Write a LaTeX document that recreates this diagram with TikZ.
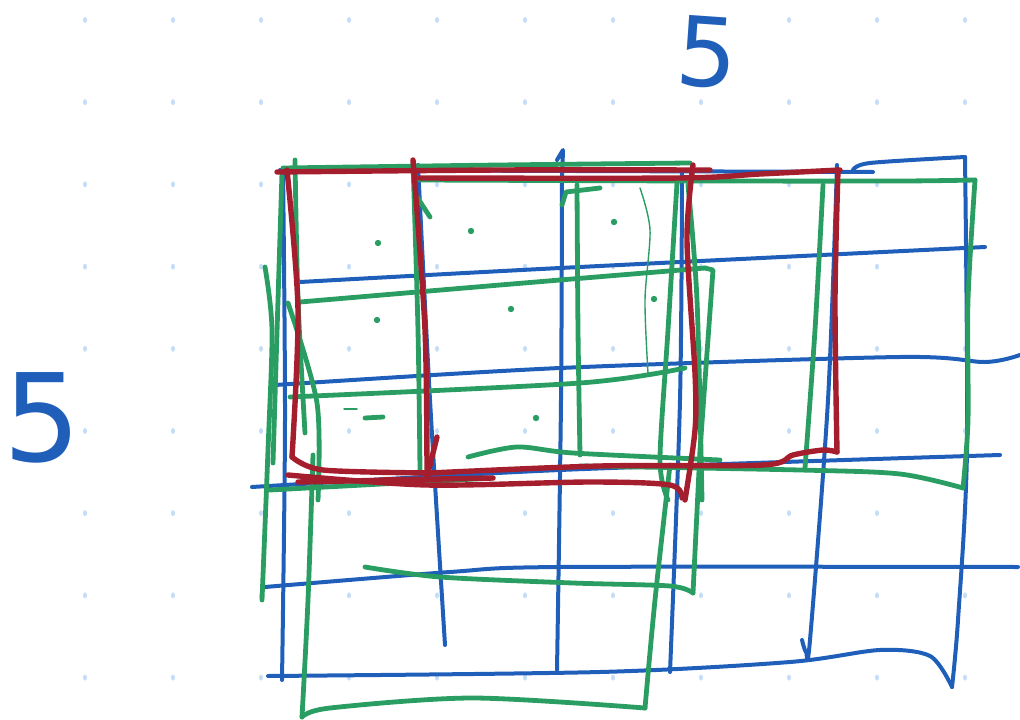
\documentclass[tikz,border=0pt]{standalone}
\usepackage{fontspec}
\usepackage{xcolor}
\newfontfamily\handfont{DejaVu Sans}
\definecolor{skblue}{HTML}{1F5FBA}
\definecolor{skgreen}{HTML}{2A9E62}
\definecolor{skred}{HTML}{A51E2E}
\definecolor{skdot}{HTML}{C4DDF8}

\begin{document}
\begin{tikzpicture}[x=1pt, y=-1pt,
    bluepen/.style={draw=skblue, line width=4pt, line cap=round, line join=round},
    greenpen/.style={draw=skgreen, line width=4.8pt, line cap=round, line join=round},
    redpen/.style={draw=skred, line width=5.4pt, line cap=round, line join=round},
    thinpen/.style={draw=skgreen, line width=1.4pt, line cap=round},
    digit/.style={text=skblue, inner sep=0pt}]
  \useasboundingbox (0,0) rectangle (1020,720);

  % dot paper
  \foreach \i in {0,...,10}
    \foreach \j in {0,...,8}
      \fill[skdot] (85+88*\i, 20+82.2*\j) ellipse (2 and 3);

  % blue 5x5 grid
  \draw[bluepen] plot[smooth] coordinates {(283,168) (285,420) (282,680)};
  \draw[bluepen] plot[smooth] coordinates {(418,165) (430,400) (445,645)};
  \draw[bluepen] (557,160) -- (563,150) -- (562,180);
  \draw[bluepen] plot[smooth] coordinates {(562,180) (561,400) (557,670)};
  \draw[bluepen] plot[smooth] coordinates {(682,170) (680,400) (670,672)};
  \draw[bluepen] plot[smooth] coordinates {(837,165) (828,400) (810,640) (806,652) (802,640)};
  \draw[bluepen] plot[smooth] coordinates {(965,157) (967,450) (958,620) (952,687)};
  \draw[bluepen] (280,170) -- (873,172);
  \draw[bluepen] plot[smooth] coordinates {(853,170) (870,163) (965,157)};
  \draw[bluepen] plot[smooth] coordinates {(300,282) (560,268) (985,247)};
  \draw[bluepen] plot[smooth] coordinates {(275,385) (560,368) (900,357) (985,362) (1020,355)};
  \draw[bluepen] plot[smooth] coordinates {(252,487) (560,470) (1000,455)};
  \draw[bluepen] plot[smooth] coordinates {(265,587) (450,572) (560,567) (1018,567)};
  \draw[bluepen] plot[smooth] coordinates {(268,676) (600,672) (790,662) (880,650) (930,656) (952,687)};

  % green windows
  \draw[greenpen] plot[smooth] coordinates {(283,168) (500,165) (690,163)};
  \draw[greenpen] plot[smooth] coordinates {(420,180) (700,181) (900,181) (975,180)};
  \draw[greenpen] (562,205) -- (566,192) -- (600,188);
  \draw[greenpen] plot[smooth] coordinates {(975,180) (968,300) (968,420) (963,488)};
  \draw[greenpen] plot[smooth] coordinates {(580,466) (800,470) (900,474) (963,488)};
  \draw[greenpen] plot[smooth] coordinates {(823,185) (815,330) (805,468)};
  \draw[greenpen] plot[smooth] coordinates {(577,185) (578,330) (580,455)};
  \draw[greenpen] plot[smooth] coordinates {(677,183) (668,330) (660,460) (668,500)};
  \draw[greenpen] plot[smooth] coordinates {(688,185) (697,300) (702,500)};
  \draw[greenpen] plot[smooth] coordinates {(300,302) (500,285) (705,268)};
  \draw[greenpen] (705,268) -- (713,270) -- (700,450) -- (693,593);
  \draw[greenpen] plot[smooth] coordinates {(365,567) (440,577) (573,583) (670,586) (693,593)};
  \draw[greenpen] plot[smooth] coordinates {(265,267) (272,330) (268,450) (262,600)};
  \draw[greenpen] plot[smooth] coordinates {(295,160) (298,300) (305,433)};
  \draw[greenpen] plot[smooth] coordinates {(282,173) (278,300) (273,463)};
  \draw[greenpen] plot[smooth] coordinates {(288,303) (317,403) (318,500)};
  \draw[greenpen] plot[smooth] coordinates {(290,397) (580,383) (685,368)};
  \draw[greenpen] plot[smooth] coordinates {(468,457) (517,447) (573,453) (720,460)};
  \draw[greenpen] (270,490) -- (493,478);
  \draw[greenpen] plot[smooth] coordinates {(313,455) (308,600) (302,717)};
  \draw[greenpen] plot[smooth] coordinates {(302,717) (330,708) (473,698) (645,708)};
  \draw[greenpen] plot[smooth] coordinates {(645,708) (655,600) (670,465)};
  \draw[greenpen] plot[smooth] coordinates {(413,163) (418,330) (420,470)};
  \draw[greenpen] (417,197) -- (430,217);
  \draw[thinpen] plot[smooth] coordinates {(640,188) (650,230) (645,300) (648,373)};

  % kernel marks
  \foreach \p in {(378,243), (471,231), (614,222), (377,320), (511,309), (654,299), (536,418)}
    \fill[skgreen] \p circle (3.2pt);
  \draw[greenpen] (365,418) -- (383,417);
  \draw[thinpen] (344,409) -- (357,409);

  % red window
  \draw[redpen] plot[smooth] coordinates {(277,172) (500,170) (710,170)};
  \draw[redpen] plot[smooth] coordinates {(420,178) (680,178) (760,174) (840,170)};
  \draw[redpen] plot[smooth] coordinates {(287,170) (298,310) (292,457)};
  \draw[redpen] plot[smooth] coordinates {(292,457) (323,470) (430,473)};
  \draw[redpen] plot[smooth] coordinates {(413,160) (425,330) (427,477)};
  \draw[redpen] (437,437) -- (427,477);
  \draw[redpen] plot[smooth] coordinates {(693,165) (687,240) (695,373) (695,430) (685,500)};
  \draw[redpen] plot[smooth] coordinates {(838,170) (835,300) (837,452)};
  \draw[redpen] plot[smooth] coordinates {(837,452) (823,450) (793,455) (763,465) (600,466) (430,473)};
  \draw[redpen] plot[smooth] coordinates {(288,475) (427,485) (590,482) (670,485) (682,498)};
  \draw[redpen] (298,482) -- (493,478) -- (380,480);

  % sizes
  \node[digit, font=\handfont\fontsize{96}{96}\selectfont, rotate=-4] (topfive) at (707,52) {5};
  \node[digit, font=\handfont\fontsize{122}{122}\selectfont] (leftfive) at (42,418) {5};
\end{tikzpicture}
\end{document}
